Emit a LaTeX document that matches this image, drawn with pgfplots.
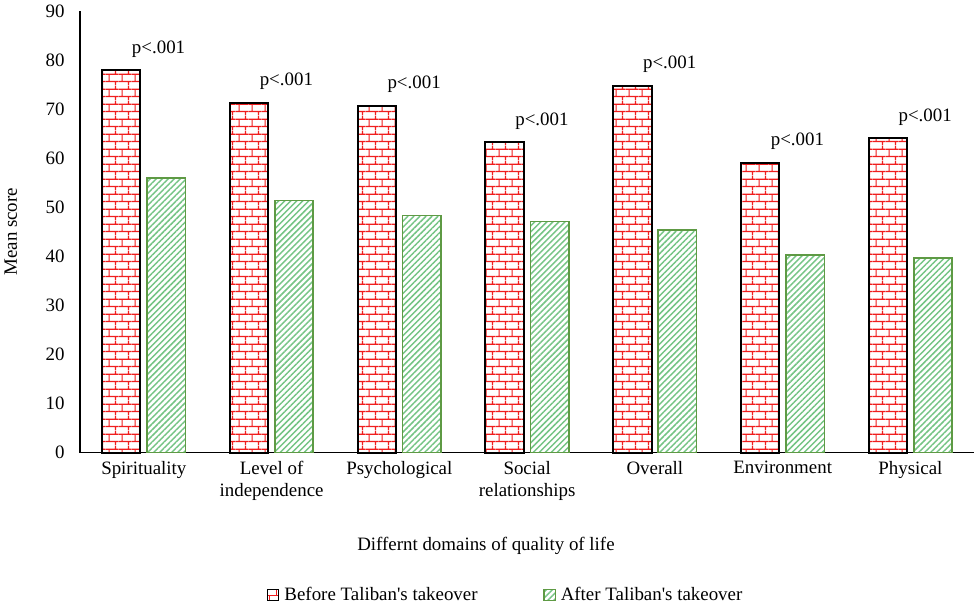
\documentclass[border=0pt]{standalone}
\usepackage{fontspec}
\setmainfont{Liberation Serif}
\usepackage{pgfplots}
\pgfplotsset{compat=1.18}
\usetikzlibrary{patterns,patterns.meta}

\definecolor{brickred}{HTML}{F01E1E}
\definecolor{stripegreen}{HTML}{74C484}
\definecolor{edgegreen}{HTML}{5E9A44}

% brick pattern: courses 5.5pt high, bricks 10pt long
\tikzdeclarepattern{
  name=wallbricks,
  type=uncolored,
  bounding box={(0pt,0pt) and (10pt,11pt)},
  tile size={(10pt,11pt)},
  code={
    \draw[line width=0.9pt]
      (0pt,2.75pt) -- (10pt,2.75pt)
      (0pt,8.25pt) -- (10pt,8.25pt)
      (2.5pt,2.75pt) -- (2.5pt,8.25pt)
      (7.5pt,8.25pt) -- (7.5pt,11pt)
      (7.5pt,0pt) -- (7.5pt,2.75pt);
  }
}

\pgfplotstableread{
x before after
0 77.9 55.9
1 71.3 51.4
2 70.7 48.3
3 63.2 47.1
4 74.7 45.4
5 59.1 40.3
6 64.0 39.6
}\qoldata

\begin{document}
\begin{tikzpicture}[font=\fontsize{14.2}{16.5}\selectfont]
\begin{axis}[
  scale only axis,
  width=672pt, height=332pt,
  ybar=5pt,
  bar width=28.8pt,
  xmin=-0.5, xmax=6.5,
  ymin=0, ymax=90,
  ytick={0,10,...,90},
  xtick=data,
  xticklabels={Spirituality,{Level of\\independence},Psychological,{Social\\relationships},Overall,Environment,Physical},
  xticklabel style={align=center, yshift=-3pt},
  yticklabel style={xshift=-8pt},
  major tick length=0pt,
  axis x line*=bottom,
  axis y line*=left,
  axis line style={line width=1pt},
  /pgf/number format/assume math mode=true,
  ylabel={Mean score},
  ylabel style={at={(axis description cs:0,0.5)}, anchor=center, rotate=0, yshift=52pt},
  xlabel={Differnt domains of quality of life},
  xlabel style={at={(axis description cs:0.454,0)}, anchor=center, yshift=-70pt},
  legend style={at={(axis description cs:0.476,0)}, anchor=center, yshift=-107pt,
    draw=none, legend columns=2, /tikz/every even column/.append style={column sep=48pt},
    inner sep=1pt, nodes={inner sep=1.5pt}},
  legend image code/.code={\draw[#1, line width=0.8pt] (0pt,-4pt) rectangle (8.5pt,4.5pt); \path (10.5pt,0pt);},
  clip=false,
]
\addplot[draw=black, line width=1.5pt, fill=white, postaction={pattern=wallbricks, pattern color=brickred},
  nodes near coords={p<.001},
  every node near coord/.append style={anchor=center, xshift=28pt, yshift=16pt, text=black}]
  table[x=x, y=before] {\qoldata};
\addlegendentry{Before Taliban\textquotesingle s takeover}
\addplot[draw=edgegreen, line width=1.2pt, fill=white,
  postaction={pattern={Lines[angle=45, distance=3.2pt, line width=1.1pt]}, pattern color=stripegreen}]
  table[x=x, y=after] {\qoldata};
\addlegendentry{After Taliban\textquotesingle s takeover}
\end{axis}
\end{tikzpicture}
\end{document}
